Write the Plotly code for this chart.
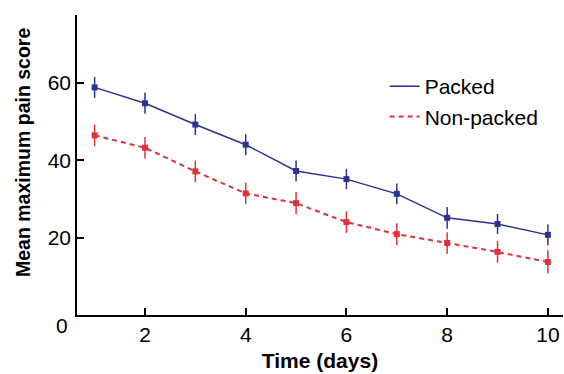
import plotly.graph_objects as go

days = [1, 2, 3, 4, 5, 6, 7, 8, 9, 10]
packed = [58.8, 54.7, 49.2, 44.0, 37.2, 35.1, 31.3, 25.1, 23.5, 20.7]
packed_err = [2.7, 2.7, 2.7, 2.7, 2.7, 2.6, 2.7, 2.8, 2.6, 2.7]
nonpacked = [46.4, 43.2, 37.1, 31.4, 28.9, 24.0, 20.9, 18.6, 16.3, 13.7]
nonpacked_err = [2.8, 2.8, 2.8, 2.8, 2.8, 2.8, 2.8, 2.8, 2.8, 3.0]
x_ticks = [2, 4, 6, 8, 10]
y_ticks = [20, 40, 60]

BLUE = "#2b3391"
RED = "#e0313b"
FONT = "Liberation Sans, Arial, Helvetica, sans-serif"

fig = go.Figure()
# lines (legend entries)
fig.add_trace(go.Scatter(x=days, y=packed, mode="lines", name="Packed",
                         line=dict(color=BLUE, width=1.5)))
fig.add_trace(go.Scatter(x=days, y=nonpacked, mode="lines", name="Non-packed",
                         line=dict(color=RED, width=2, dash="5px,4px")))
# markers + error bars
fig.add_trace(go.Scatter(x=days, y=packed, mode="markers", showlegend=False,
                         marker=dict(symbol="square", size=6, color=BLUE),
                         error_y=dict(type="data", array=packed_err, width=0,
                                      thickness=1.5, color=BLUE)))
fig.add_trace(go.Scatter(x=days, y=nonpacked, mode="markers", showlegend=False,
                         marker=dict(symbol="square", size=6, color=RED),
                         error_y=dict(type="data", array=nonpacked_err, width=0,
                                      thickness=1.5, color=RED)))

fig.update_layout(
    width=564, height=374,
    margin=dict(l=77, r=1, t=15, b=59),
    paper_bgcolor="white", plot_bgcolor="white",
    font=dict(family=FONT, size=21, color="black"),
    showlegend=True,
    legend=dict(x=0.633, y=0.83, xanchor="left", yanchor="top",
                bgcolor="rgba(0,0,0,0)", font=dict(size=21),
                tracegroupgap=0, itemwidth=30),
    xaxis=dict(range=[0.65, 10.3], tickvals=x_ticks, ticks="inside",
               ticklen=7, tickwidth=1.5, tickcolor="black",
               showline=True, linecolor="black", linewidth=1.5,
               showgrid=False, zeroline=False,
               tickfont=dict(size=21),
               title=dict(text="<b>Time (days)</b>", font=dict(size=21), standoff=8)),
    yaxis=dict(range=[0, 77.5], tickvals=y_ticks, ticks="inside",
               ticklen=7, tickwidth=1.5, tickcolor="black",
               showline=True, linecolor="black", linewidth=1.5,
               showgrid=False, zeroline=False,
               tickfont=dict(size=21)),
    annotations=[
        dict(text="0", xref="paper", yref="y", x=0, y=0, xanchor="right",
             yanchor="middle", xshift=-7, yshift=-10, showarrow=False,
             font=dict(size=21)),
        dict(text="<b>Mean maximum pain score</b>", xref="paper", yref="paper",
             x=0, y=0.54, xanchor="center", yanchor="middle", xshift=-54,
             textangle=-90, showarrow=False, font=dict(size=19.5)),
    ],
)

fig.write_html("out.html", config={"displayModeBar": False},
               post_script="document.body.style.margin='0';document.body.style.overflow='hidden';")
